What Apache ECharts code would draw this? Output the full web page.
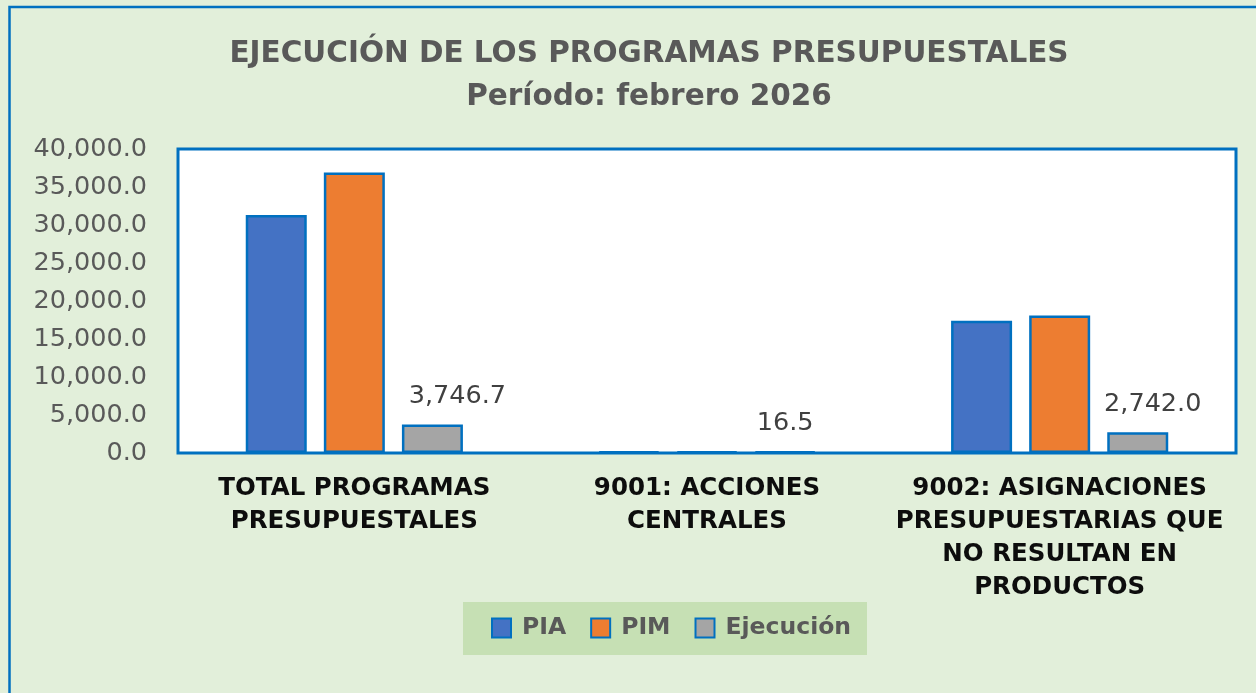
<!DOCTYPE html>
<html><head><meta charset="utf-8">
<script src="https://cdn.jsdelivr.net/npm/echarts@6/dist/echarts.min.js"></script>
<style>html,body{margin:0;padding:0;background:#E2EFDA;}#c{width:1256px;height:693px;}</style>
</head><body><div id="c"></div>
<script>
const categories = ['TOTAL PROGRAMAS\nPRESUPUESTALES', '9001: ACCIONES\nCENTRALES', '9002: ASIGNACIONES\nPRESUPUESTARIAS QUE\nNO RESULTAN EN\nPRODUCTOS'];
const seriesNames = ['PIA', 'PIM', 'Ejecución'];
const piaValues = [31300, 30, 17400];
const pimValues = [36900, 30, 18100];
const ejecValues = [3746.7, 16.5, 2742.0];
const colors = ['#4472C4', '#ED7D31', '#A5A5A5'];

const fmt = v => Number(v).toLocaleString('en-US', {minimumFractionDigits: 1, maximumFractionDigits: 1});
const labelOffsets = [[25, 0], [0, 0], [15, 0]];
const chart = echarts.init(document.getElementById('c'));
function bar(i, data, withLabel) {
  const s = {type: 'bar', name: seriesNames[i], barWidth: 61, barGap: '28%', z: 5, barMinHeight: 1.5,
    itemStyle: {color: colors[i], borderColor: '#0070C0', borderWidth: 2.5},
    data: data.map((v, k) => withLabel ? {value: v, label: {offset: labelOffsets[k]}} : v)};
  if (withLabel) s.label = {show: true, position: 'top', distance: 15, formatter: p => fmt(p.value),
    fontFamily: 'DejaVu Sans', fontSize: 25.5, color: '#404040'};
  return s;
}
chart.setOption({
  backgroundColor: '#E2EFDA',
  animation: false,
  graphic: [
    {type: 'rect', shape: {x: 9.5, y: 7, width: 1300, height: 720},
      style: {fill: 'none', stroke: '#0070C0', lineWidth: 2.5}, z: 100},
    {type: 'rect', shape: {x: 463, y: 602, width: 404, height: 53},
      style: {fill: '#C6E0B4'}, z: -1}
  ],
  title: {text: 'EJECUCIÓN DE LOS PROGRAMAS PRESUPUESTALES\nPeríodo: febrero 2026', left: 644, top: 28, textAlign: 'center',
    textStyle: {fontFamily: 'DejaVu Sans', fontWeight: 'bold', fontSize: 29.5, color: '#595959', lineHeight: 43}},
  legend: {data: seriesNames, left: 491, top: 615, padding: 0, itemGap: 24,
    itemWidth: 19, itemHeight: 19, icon: 'rect',
    textStyle: {fontFamily: 'DejaVu Sans', fontWeight: 'bold', fontSize: 23.5, color: '#595959', lineHeight: 26, padding: [0, 0, 0, 6]}},
  grid: {left: 178, top: 149, right: 20, bottom: 240, show: true, backgroundColor: '#fff', borderColor: '#0070C0', borderWidth: 3, containLabel: false},
  xAxis: {type: 'category', data: categories,
    axisLine: {show: false}, axisTick: {show: false},
    axisLabel: {interval: 0, margin: 19, fontFamily: 'DejaVu Sans', fontWeight: 'bold', fontSize: 24.5, color: '#0D0D0D', lineHeight: 33}},
  yAxis: {type: 'value', min: 0, max: 40000, interval: 5000,
    splitLine: {show: false}, axisLine: {show: false}, axisTick: {show: false},
    axisLabel: {formatter: fmt, margin: 31, fontFamily: 'DejaVu Sans', fontSize: 25.5, color: '#595959'}},
  series: [bar(0, piaValues, false), bar(1, pimValues, false), bar(2, ejecValues, true)]
});
</script></body></html>
